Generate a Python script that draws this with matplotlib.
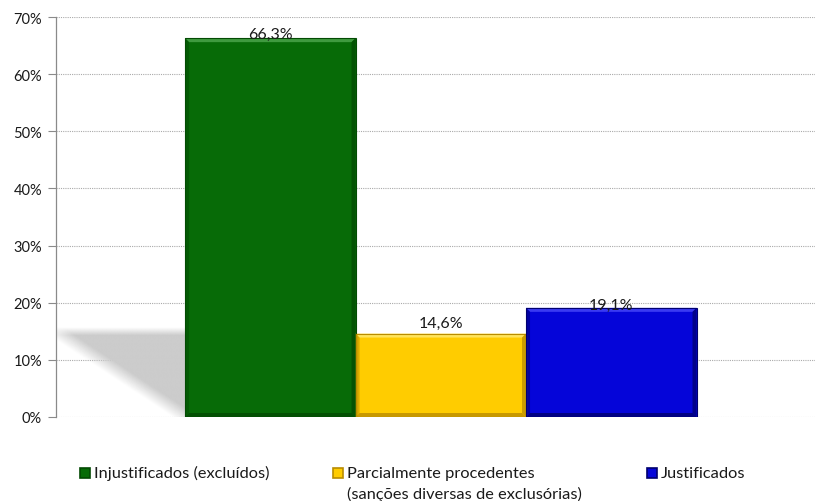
import matplotlib
matplotlib.use('AGG')
import matplotlib.pyplot as plt
import numpy as np
from matplotlib.patches import Polygon, Rectangle

plt.rcParams['font.family'] = ['Lato', 'DejaVu Sans']

# Data
categories = ['Injustificados (excluídos)',
              'Parcialmente procedentes\n(sanções diversas de exclusórias)',
              'Justificados']
values = [66.3, 14.6, 19.1]
labels = ['66,3%', '14,6%', '19,1%']
y_ticks = [0, 10, 20, 30, 40, 50, 60, 70]

# Face, light bevel, dark bevel for each bar
faces = ['#076b07', '#ffcc00', '#0505d9']
lights = ['#3f9a3f', '#ffe45c', '#3a3af2']
darks = ['#034a03', '#b98c00', '#00006e']
label_offsets = [0, 7, -1]  # baseline, pixels above bar top
legend_x = [80, 333, 647]

W, H = 815, 502
TXT = '#1a1a1a'
fig = plt.figure(figsize=(W / 100, H / 100), dpi=100)
ax = fig.add_axes([56 / W, (H - 418) / H, (W - 56) / W, 400 / H])

x_lo, x_hi = -1.257, 3.195
px_x = (x_hi - x_lo) / (W - 56)   # data units per pixel
px_y = 70 / 400.0

# soft grey shadow to the left of the first bar
xs = np.linspace(x_lo, -0.5, 300)
ys = np.linspace(0, 18, 300)
X, Y = np.meshgrid(xs, ys)
top = 15.0
diag = top - top * (X - x_lo) / (-0.5 - x_lo)
a = np.clip((top - Y) / 1.4 + 0.5, 0, 1) * np.clip((Y - diag) / 3.0 + 0.5, 0, 1)
rgba = np.zeros(X.shape + (4,))
rgba[..., :3] = 0.8
rgba[..., 3] = a
ax.imshow(rgba, extent=(x_lo, -0.5, 0, 18), origin='lower', aspect='auto',
          zorder=1, interpolation='bilinear')
ax.set_xlim(x_lo, x_hi)
ax.set_ylim(0, 70)

# bevelled bars
bw = 4 * px_x
bh = 4 * px_y
for i, v in enumerate(values):
    x0, x1 = i - 0.5, i + 0.5
    ax.add_patch(Rectangle((x0, 0), 1, v, facecolor=faces[i], edgecolor='none', zorder=3))
    ax.add_patch(Polygon([(x0, v), (x1, v), (x1 - bw, v - bh), (x0 + bw, v - bh)],
                         facecolor=lights[i], edgecolor='none', zorder=4))
    ax.add_patch(Polygon([(x0, 0), (x1, 0), (x1 - bw, bh), (x0 + bw, bh)],
                         facecolor=darks[i], edgecolor='none', alpha=0.8, zorder=4))
    ax.add_patch(Polygon([(x0, 0), (x0, v), (x0 + bw, v - bh), (x0 + bw, bh)],
                         facecolor=darks[i], edgecolor='none', alpha=0.5, zorder=4))
    ax.add_patch(Polygon([(x1, 0), (x1, v), (x1 - bw, v - bh), (x1 - bw, bh)],
                         facecolor=darks[i], edgecolor='none', alpha=0.75, zorder=4))
    ax.add_patch(Rectangle((x0, 0), 1, v, facecolor='none', edgecolor=darks[i],
                           lw=0.8, zorder=5))
    ax.text(i, v + label_offsets[i] * px_y, labels[i], ha='center', va='baseline',
            fontsize=11.5, color=TXT, zorder=6)

# axes styling
ax.set_xticks([])
ax.set_yticks(y_ticks)
ax.set_yticklabels(['%d%%' % t for t in y_ticks], fontsize=10.5, color=TXT)
ax.tick_params(axis='y', length=6, width=0.8, color='#8a8a8a', pad=4)
ax.grid(axis='y', linestyle=(0, (1, 1)), color='#aaaaaa', lw=0.8, zorder=0)
ax.set_axisbelow(True)
for s in ['top', 'right', 'bottom']:
    ax.spines[s].set_visible(False)
ax.spines['left'].set_color('#8a8a8a')
ax.spines['left'].set_linewidth(0.9)
ax.spines['left'].set_zorder(2)

# legend along the bottom
for i, cat in enumerate(categories):
    lx = legend_x[i]
    fig.patches.append(Rectangle((lx / W, (H - 479) / H), 10 / W, 10 / H,
                                 transform=fig.transFigure, facecolor=faces[i],
                                 edgecolor=darks[i], lw=1.2))
    first, *rest = cat.split('\n')
    fig.text((lx + 14) / W, (H - 478) / H, first, fontsize=11.8, color=TXT,
             va='baseline', ha='left')
    for j, line in enumerate(rest):
        fig.text((lx + 14) / W, (H - 478 - 21 * (j + 1)) / H, line, fontsize=11.8,
                 color=TXT, va='baseline', ha='left')

fig.savefig('out.png', dpi=100)
